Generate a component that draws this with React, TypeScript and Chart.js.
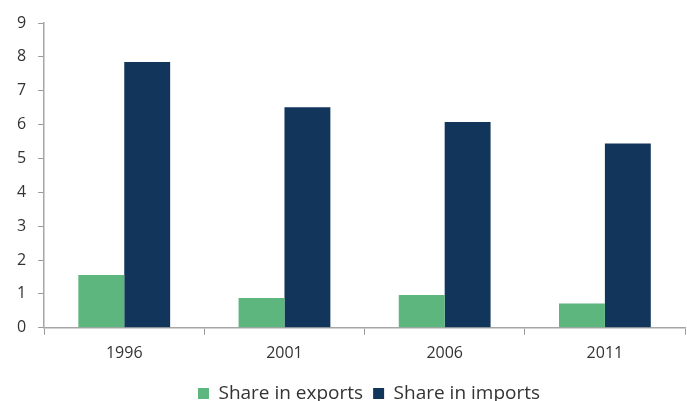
import React, { useEffect, useRef } from "react";
import { Chart, registerables } from "chart.js";

Chart.register(...registerables);

const categories = ["1996", "2001", "2006", "2011"];
const exportsShare = [1.56, 0.88, 0.97, 0.72];
const importsShare = [7.85, 6.51, 6.08, 5.44];
const yTicks = [0, 1, 2, 3, 4, 5, 6, 7, 8, 9];

const shiftLegend = {
  id: "shiftLegend",
  afterLayout(chart: any) {
    const lg = chart.legend;
    if (lg) {
      lg.left += 24;
      lg.right += 24;
    }
  },
};

export default function App() {
  const ref = useRef<HTMLCanvasElement | null>(null);
  useEffect(() => {
    if (!ref.current) return;
    const font = "'Open Sans', 'DejaVu Sans', sans-serif";
    const chart = new Chart(ref.current, {
      type: "bar",
      data: {
        labels: categories,
        datasets: [
          {
            label: "Share in exports",
            data: exportsShare,
            backgroundColor: "#5DB67E",
            borderWidth: 0,
          },
          {
            label: "Share in imports",
            data: importsShare,
            backgroundColor: "#12355B",
            borderWidth: 0,
          },
        ],
      },
      plugins: [shiftLegend],
      options: {
        responsive: false,
        animation: false,
        maintainAspectRatio: false,
        layout: { padding: { top: 23, right: 2, left: 5, bottom: -12 } },
        datasets: { bar: { categoryPercentage: 0.573, barPercentage: 1 } },
        plugins: {
          legend: {
            position: "bottom",
            labels: {
              boxWidth: 11,
              boxHeight: 11,
              padding: 10,
              color: "#333333",
              font: { family: font, size: 19 },
            },
          },
          tooltip: { enabled: false },
        },
        scales: {
          x: {
            offset: true,
            afterFit: (scale: any) => {
              scale.height += 2;
            },
            grid: {
              display: true,
              offset: true,
              drawOnChartArea: false,
              drawTicks: true,
              tickLength: 7,
              color: "#9a9a9a",
            },
            border: { color: "#a6a6a6", width: 1.5 },
            ticks: { color: "#333333", font: { family: font, size: 16 }, padding: 9 },
          },
          y: {
            min: 0,
            max: 9,
            afterBuildTicks: (axis: any) => {
              axis.ticks = yTicks.map((v) => ({ value: v }));
            },
            grid: {
              display: true,
              drawOnChartArea: false,
              drawTicks: true,
              tickLength: 6,
              color: "#9a9a9a",
            },
            border: { color: "#a6a6a6", width: 1.5 },
            ticks: { color: "#333333", font: { family: font, size: 16 }, padding: 12 },
          },
        },
      },
    });
    return () => chart.destroy();
  }, []);
  return (
    <div style={{ position: "absolute", left: 0, top: 0, width: 687, height: 401, background: "#fff" }}>
      <canvas ref={ref} width={687} height={401} style={{ width: 687, height: 401 }} />
    </div>
  );
}
